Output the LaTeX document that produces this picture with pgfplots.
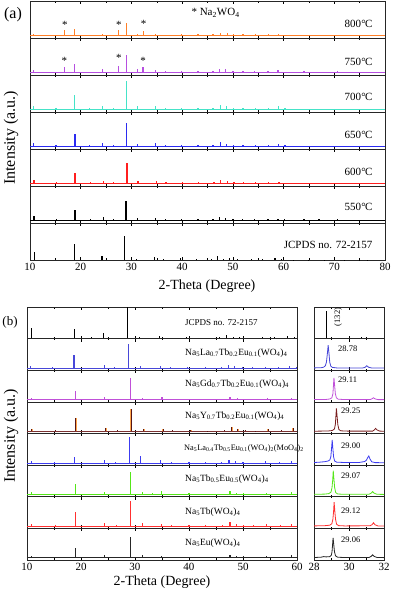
\documentclass[border=0pt]{standalone}
\usepackage{fontspec}
\setmainfont{Liberation Serif}
\usepackage{pgfplots}
\pgfplotsset{compat=1.18}

\definecolor{cA}{HTML}{FF7F27}
\definecolor{cB}{HTML}{B64FE0}
\definecolor{cC}{HTML}{45E3C8}
\definecolor{cD}{HTML}{2B2BF0}
\definecolor{cE}{HTML}{FF1F1F}
\definecolor{bLa}{HTML}{4848D8}
\definecolor{bGd}{HTML}{C050D8}
\definecolor{bY}{HTML}{7A1E1E}
\definecolor{bMo}{HTML}{3C3CF0}
\definecolor{bGr}{HTML}{55E619}
\definecolor{bRd}{HTML}{FF3030}

\pgfplotsset{
  sub/.style={scale only axis, anchor=north west, ytick=\empty,
    tick align=inside, major tick length=3pt, minor tick length=1.6pt,
    axis line style={line width=0.6pt, black!85},
    every tick/.append style={line width=0.5pt, black},
    /pgf/number format/assume math mode=true,
    ticklabel style={font=\fontsize{11}{12}\selectfont}},
  nolab/.style={xticklabels={}},
  pa/.style={sub, width=355pt, height=37pt, xmin=10, xmax=80, ymin=-3, ymax=34,
    xtick={10,20,...,80}, minor x tick num=1},
  pb/.style={sub, width=270pt, height=31.6pt, xmin=10, xmax=60, ymin=-2, ymax=29.6,
    xtick={10,20,...,60}, minor x tick num=1},
  pc/.style={sub, width=70pt, height=31.6pt, xmin=28, xmax=32, ymin=-2, ymax=29.6,
    xtick={28,30,32}, minor x tick num=1},
  pk/.style={ycomb, line width=1.3pt},
  bl/.style={line width=0.9pt},
  pkb/.style={ycomb, line width=1.1pt},
  bd/.style={line width=0.8pt},
}

\begin{document}
\begin{tikzpicture}
\useasboundingbox (0,0) rectangle (392pt,-594pt);

% ---------- panel (a) ----------
\begin{axis}[pa, nolab, at={(30pt,-1pt)}]
\addplot[bl, cA] coordinates {(10,0) (80,0)};
\addplot[pk, cA] coordinates {(10.7,1.5) (16.8,5) (18.8,6) (24.3,1.5) (27.5,5) (29.0,12) (31.2,1.5) (32.4,4.5) (34.8,1.5) (36.7,0.5) (39.9,0.8) (43.1,0.6) (46.1,1) (47.5,2.5) (48.9,2) (50.1,1) (52.0,0.6) (54.4,1) (57.0,0.6) (59.0,1.5) (64.0,0.5) (70.5,0.5) (77.0,0.4)};
\end{axis}

\begin{axis}[pa, nolab, at={(30pt,-38pt)}]
\addplot[bl, cB] coordinates {(10,0) (80,0)};
\addplot[pk, cB] coordinates {(10.7,2.5) (16.8,5) (18.8,8) (24.3,3) (27.5,6) (29.0,17) (31.2,3) (32.3,5) (34.8,2) (36.7,1) (39.9,1.5) (43.1,1) (46.1,1.5) (47.4,3) (48.6,3) (50.0,1.5) (52.0,1) (54.3,1.5) (56.9,1) (58.9,2) (64.0,0.6) (70.6,0.6) (77.0,0.5)};
\end{axis}

\begin{axis}[pa, nolab, at={(30pt,-75pt)}]
\addplot[bl, cC] coordinates {(10,0) (80,0)};
\addplot[pk, cC] coordinates {(10.7,3) (15.1,1) (18.8,14) (21.8,1) (24.3,3.5) (26.4,1) (29.0,28) (31.2,3) (34.8,3) (36.7,1) (39.9,1.5) (43.1,1) (46.1,1) (47.5,4) (48.8,3) (50.1,1.5) (52.0,1) (54.4,1.5) (57.0,1) (59.0,3) (60.3,1) (64.0,0.5) (70.5,0.5) (77.0,0.5)};
\end{axis}

\begin{axis}[pa, nolab, at={(30pt,-112pt)}]
\addplot[bl, cD] coordinates {(10,0) (80,0)};
\addplot[pk, cD] coordinates {(10.7,3.5) (15.1,1.5) (18.9,12) (21.8,1.5) (24.3,3) (26.4,1.5) (29.0,23) (31.2,2.5) (34.8,3) (36.7,1) (39.9,1.5) (43.1,1) (46.1,1) (47.5,4) (48.8,2.5) (50.1,1.5) (52.0,1) (54.4,1.5) (57.0,1) (59.0,2.5) (60.3,1) (64.0,0.5) (67.0,0.5) (70.5,0.5) (77.0,0.5)};
\end{axis}

\begin{axis}[pa, nolab, at={(30pt,-149pt)}]
\addplot[bl, cE] coordinates {(10,0) (80,0)};
\addplot[pk, cE] coordinates {(10.8,3) (15.2,1) (18.9,10) (21.9,1) (24.5,2.5) (26.5,1.5) (29.1,20) (31.3,2) (35.0,2) (36.8,1) (40.1,1) (43.2,1) (46.3,1) (47.6,3) (48.9,2.5) (50.2,1) (52.1,1) (54.5,1.5) (57.0,1) (59.1,1.5) (64.0,0.5) (67.0,0.5) (71.0,0.5) (77.5,0.5)};
\end{axis}

\begin{axis}[pa, nolab, at={(30pt,-186pt)}]
\addplot[bl, black] coordinates {(10,0) (80,0)};
\addplot[pk, black] coordinates {(10.8,4) (15.2,1.5) (18.9,10) (21.9,1.5) (24.5,3) (26.5,1.5) (28.9,19) (31.2,2) (34.8,2) (36.7,1) (39.9,1.2) (43.1,1) (46.1,1) (47.4,3) (48.6,2.5) (50.0,1) (51.9,1.2) (54.3,1.5) (56.9,1.2) (58.9,1.5) (60.2,1) (64.0,0.6) (67.0,0.6) (70.6,0.6) (73.0,0.5) (77.0,0.5) (78.5,0.5)};
\end{axis}

\begin{axis}[pa, at={(30pt,-223pt)}, ymin=0, ymax=37]
\addplot[ycomb, line width=1.1pt, black] coordinates {(10.8,8) (18.8,16) (24.2,4) (28.7,24) (31.0,1.5) (34.6,3) (36.4,1) (39.6,2) (42.8,0.7) (45.7,1.5) (47.0,4) (48.2,1.5) (49.4,2) (50.9,0.8) (53.6,1.5) (55.9,1) (58.3,2.5) (59.6,1.5) (62.0,0.5) (65.0,0.5) (68.0,0.5) (72.0,0.5) (75.0,0.5) (76.5,0.5)};
\end{axis}

% asterisks for Na2WO4
\begin{scope}[every node/.style={font=\fontsize{11}{11}\selectfont, anchor=base, inner sep=0pt}]
\node at (30pt+6.9*5.0714pt,-1pt-28pt) {*};
\node at (30pt+17.5*5.0714pt,-1pt-28pt) {*};
\node at (30pt+22.4*5.0714pt,-1pt-27pt) {*};
\node at (30pt+6.8*5.0714pt,-38pt-27pt) {*};
\node at (30pt+17.5*5.0714pt,-38pt-24pt) {*};
\node at (30pt+22.3*5.0714pt,-38pt-27pt) {*};
\end{scope}

\node[anchor=west, font=\fontsize{11}{13}\selectfont] at (188pt,-13pt) {* Na\textsubscript{2}WO\textsubscript{4}};
\node[font=\fontsize{16}{18}\selectfont] at (13pt,-15pt) {(a)};

\begin{scope}[every node/.style={anchor=east, font=\fontsize{11}{13}\selectfont}]
\node at (376pt,-24pt) {800\kern0.3pt°\kern-0.6pt C};
\node at (376pt,-62pt) {750\kern0.3pt°\kern-0.6pt C};
\node at (376pt,-97pt) {700\kern0.3pt°\kern-0.6pt C};
\node at (376pt,-135pt) {650\kern0.3pt°\kern-0.6pt C};
\node at (376pt,-172pt) {600\kern0.3pt°\kern-0.6pt C};
\node at (376pt,-207pt) {550\kern0.3pt°\kern-0.6pt C};
\node at (376pt,-245pt) {JCPDS no. 72-2157};
\end{scope}

\node[rotate=90, font=\fontsize{16}{18}\selectfont] at (11pt,-138pt) {Intensity (a.u.)};
\node[font=\fontsize{14}{16}\selectfont] at (207pt,-286pt) {2-Theta (Degree)};

% ---------- panel (b), left ----------
\begin{axis}[pb, nolab, at={(27pt,-307pt)}, ymin=0, ymax=31.6]
\addplot[ycomb, line width=1pt, black] coordinates {(10.8,11) (15.2,1) (18.8,10) (21.9,1.5) (24.2,6) (28.7,31.6) (30.8,2) (34.6,2.5) (36.4,1) (39.6,2) (42.8,1) (45.7,1.5) (47.0,4) (48.2,2) (49.4,2) (50.9,1) (53.6,2) (55.9,1.5) (58.3,3) (59.6,2)};
\end{axis}

\begin{axis}[pb, nolab, at={(27pt,-338.6pt)}]
\addplot[bd, bLa] coordinates {(10,0) (60,0)};
\addplot[pkb, bLa] coordinates {(10.7,2.5) (14.7,1) (18.7,13) (24.3,3) (26.2,1) (28.8,24) (31.05,2.5) (34.7,2.5) (36.5,1) (39.7,1) (43.0,1) (46.0,1) (47.3,3) (48.5,2) (49.9,1) (51.8,1) (54.1,1.5) (56.6,1) (58.6,2) (59.9,1)};
\end{axis}

\begin{axis}[pb, nolab, at={(27pt,-370.2pt)}]
\addplot[bd, bGd] coordinates {(10,0) (60,0)};
\addplot[pkb, bGd] coordinates {(10.8,2) (15.1,1) (18.9,9) (24.4,3) (26.4,1) (29.1,22) (31.4,2) (35.0,2.5) (36.8,1) (40.0,1) (43.2,0.8) (46.2,1) (47.6,3) (48.9,1.5) (50.2,1) (54.5,2) (57.0,0.8) (59.0,2)};
\end{axis}

\begin{axis}[pb, nolab, at={(27pt,-401.8pt)}]
\addplot[bd, bY!80!gray] coordinates {(10,0) (60,0)};
\addplot[ycomb, line width=1.8pt, orange!70] coordinates {(10.9,2.5) (19.0,13) (24.6,3) (29.3,22) (31.6,2) (35.2,2.5) (40.3,1.5) (47.9,4) (49.0,2) (54.7,2) (59.3,3)};
\addplot[pkb, line width=0.8pt, bY!70!black] coordinates {(10.9,2.5) (15.3,1) (19.0,13) (24.6,3) (26.7,1) (29.3,22) (31.6,2) (35.2,2.5) (37.0,1) (40.3,1.5) (43.4,0.8) (46.5,1) (47.9,4) (49.0,2) (50.4,1.5) (52.3,0.8) (54.7,2) (57.2,1) (59.3,3)};
\end{axis}

\begin{axis}[pb, nolab, at={(27pt,-433.4pt)}]
\addplot[bd, bMo] coordinates {(10,0) (60,0)};
\addplot[pkb, bMo] coordinates {(10.8,2) (15.1,1) (18.8,6) (24.3,3) (26.4,1) (29.0,26) (31.1,7) (34.8,3) (36.7,1) (40.0,1.5) (43.1,1) (46.1,1) (47.4,3.5) (48.6,2) (50.0,1) (54.2,2) (56.8,1) (58.9,2.5)};
\end{axis}

\begin{axis}[pb, nolab, at={(27pt,-465pt)}]
\addplot[bd, bGr] coordinates {(10,0) (60,0)};
\addplot[pkb, bGr] coordinates {(10.8,2.5) (15.2,1) (18.9,11) (24.4,3) (26.5,1) (29.1,23) (31.4,2.5) (33.2,2) (34.9,3.5) (36.8,1) (40.0,1.5) (43.1,0.8) (46.2,1) (47.6,4) (48.8,2) (50.1,1.5) (52.0,1) (54.4,2) (57.0,1) (59.0,2.5)};
\end{axis}

\begin{axis}[pb, nolab, at={(27pt,-496.6pt)}]
\addplot[bd, bRd] coordinates {(10,0) (60,0)};
\addplot[pkb, bRd] coordinates {(10.8,2.5) (15.2,1) (18.9,14) (24.4,3) (26.5,1) (29.1,25) (31.4,3) (34.9,2.5) (36.8,1) (40.0,1.5) (43.1,0.8) (46.2,1) (47.6,4) (48.8,2) (50.1,1.5) (52.0,1) (54.4,2) (57.0,1) (59.0,2.5)};
\end{axis}

\begin{axis}[pb, at={(27pt,-528.2pt)}]
\addplot[bd, black!85] coordinates {(10,0) (60,0)};
\addplot[pkb, black!85] coordinates {(10.8,2) (15.2,1) (18.9,10) (24.4,3) (26.5,1) (29.1,21) (31.4,2.5) (34.9,2) (36.8,1) (40.0,1) (43.1,0.8) (46.2,1) (47.6,3) (48.8,2) (50.1,1.5) (52.0,1) (54.4,2) (57.0,1) (59.0,3)};
\end{axis}

% ---------- panel (b), right: (132) region ----------
\begin{axis}[pc, nolab, at={(314pt,-307pt)}, ymin=0, ymax=31.6]
\addplot[ycomb, line width=0.9pt, black] coordinates {(28.7,28) (30.7,2) (30.9,1)};
\end{axis}

\begin{axis}[pc, nolab, at={(314pt,-338.6pt)}]
\addplot[bd, bLa] coordinates {(28,0.3) (28.4,0.5) (28.55,1) (28.65,2.5) (28.71,6) (28.76,14) (28.81,23) (28.86,14) (28.9,6) (28.96,2) (29.05,0.8) (29.3,0.3) (30.8,0.3) (30.93,1) (31.02,2.5) (31.11,1) (31.3,0.2) (32,0.2)};
\end{axis}

\begin{axis}[pc, nolab, at={(314pt,-370.2pt)}]
\addplot[bd, bGd] coordinates {(28,0.2) (28.7,0.4) (28.9,0.8) (29.02,2) (29.08,6) (29.11,14) (29.14,22) (29.18,14) (29.22,6) (29.28,2) (29.38,0.6) (29.7,0.3) (31.22,0.3) (31.33,1.2) (31.4,2) (31.48,1) (31.65,0.2) (32,0.2)};
\end{axis}

\begin{axis}[pc, nolab, at={(314pt,-401.8pt)}]
\addplot[bd, bY] coordinates {(28,0.2) (28.8,0.4) (29.05,0.9) (29.17,2.5) (29.22,7) (29.25,15) (29.28,23) (29.32,15) (29.36,7) (29.42,2) (29.52,0.6) (29.9,0.3) (31.35,0.3) (31.45,1.5) (31.52,3) (31.6,1.5) (31.75,0.3) (32,0.2)};
\end{axis}

\begin{axis}[pc, nolab, at={(314pt,-433.4pt)}]
\addplot[bd, bMo] coordinates {(28,0.5) (28.3,0.8) (28.6,1.3) (28.8,2) (28.9,3) (28.96,6) (29.0,14) (29.04,23) (29.08,14) (29.12,6) (29.18,2) (29.3,0.8) (29.8,0.5) (30.6,0.6) (30.9,1.5) (31.0,3) (31.07,5.5) (31.13,7) (31.2,4) (31.3,1.2) (31.5,0.4) (32,0.3)};
\end{axis}

\begin{axis}[pc, nolab, at={(314pt,-465pt)}]
\addplot[bd, bGr] coordinates {(28,0.3) (28.6,0.5) (28.85,1) (28.97,2.5) (29.03,7) (29.07,15) (29.1,24) (29.14,15) (29.18,7) (29.24,2) (29.35,0.6) (29.7,0.3) (31.15,0.4) (31.27,1.5) (31.35,3) (31.43,1.5) (31.6,0.3) (32,0.2)};
\end{axis}

\begin{axis}[pc, nolab, at={(314pt,-496.6pt)}]
\addplot[bd, bRd] coordinates {(28,0.3) (28.6,0.5) (28.9,1) (29.02,2.5) (29.08,7) (29.12,15) (29.15,24) (29.19,15) (29.23,7) (29.29,2) (29.4,0.6) (29.75,0.3) (31.2,0.4) (31.32,1.5) (31.4,3.5) (31.48,1.5) (31.65,0.3) (32,0.2)};
\end{axis}

\begin{axis}[pc, at={(314pt,-528.2pt)}]
\addplot[bd, black!85] coordinates {(28,0.3) (28.4,0.6) (28.55,1.2) (28.7,0.9) (28.9,1.2) (28.99,2.5) (29.03,6) (29.06,13) (29.09,20) (29.13,13) (29.17,6) (29.23,2) (29.35,0.6) (29.7,0.3) (31.15,0.4) (31.27,1.5) (31.35,3) (31.43,1.5) (31.6,0.3) (32,0.2)};
\end{axis}

\node[font=\fontsize{13}{15}\selectfont] at (10pt,-322pt) {(b)};
\node[rotate=90, font=\fontsize{16}{18}\selectfont] at (11pt,-436pt) {Intensity (a.u.)};
\node[font=\fontsize{14}{16}\selectfont] at (162pt,-582pt) {2-Theta (Degree)};

\begin{scope}[every node/.style={anchor=west, inner sep=0pt}]
\node[font=\fontsize{9}{11}\selectfont] at (185pt,-323pt) {JCPDS no. 72-2157};
\node[font=\fontsize{9.5}{11}\selectfont] at (185pt,-353pt) {Na\textsubscript{5}La\textsubscript{0.7}Tb\textsubscript{0.2}Eu\textsubscript{0.1}(WO\textsubscript{4})\textsubscript{4}};
\node[font=\fontsize{9.5}{11}\selectfont] at (185pt,-384pt) {Na\textsubscript{5}Gd\textsubscript{0.7}Tb\textsubscript{0.2}Eu\textsubscript{0.1}(WO\textsubscript{4})\textsubscript{4}};
\node[font=\fontsize{9.5}{11}\selectfont] at (185pt,-416pt) {Na\textsubscript{5}Y\textsubscript{0.7}Tb\textsubscript{0.2}Eu\textsubscript{0.1}(WO\textsubscript{4})\textsubscript{4}};
\node[font=\fontsize{8.3}{10}\selectfont] at (184pt,-448pt) {Na\textsubscript{5}La\textsubscript{0.4}Tb\textsubscript{0.5}Eu\textsubscript{0.1}(WO\textsubscript{4})\textsubscript{2}(MoO\textsubscript{4})\textsubscript{2}};
\node[font=\fontsize{9.5}{11}\selectfont] at (185pt,-479pt) {Na\textsubscript{5}Tb\textsubscript{0.5}Eu\textsubscript{0.5}(WO\textsubscript{4})\textsubscript{4}};
\node[font=\fontsize{9.5}{11}\selectfont] at (185pt,-512pt) {Na\textsubscript{5}Tb(WO\textsubscript{4})\textsubscript{4}};
\node[font=\fontsize{9.5}{11}\selectfont] at (185pt,-543pt) {Na\textsubscript{5}Eu(WO\textsubscript{4})\textsubscript{4}};
\end{scope}

\begin{scope}[every node/.style={anchor=west, inner sep=0pt, font=\fontsize{8.5}{10}\selectfont}]
\node at (338pt,-349pt) {28.78};
\node at (338pt,-380pt) {29.11};
\node at (341pt,-411pt) {29.25};
\node at (341pt,-446pt) {29.00};
\node at (341pt,-476pt) {29.07};
\node at (341pt,-511pt) {29.12};
\node at (341pt,-540pt) {29.06};
\end{scope}
\node[rotate=90, font=\fontsize{8.5}{10}\selectfont] at (338pt,-317pt) {(132)};

\end{tikzpicture}
\end{document}
